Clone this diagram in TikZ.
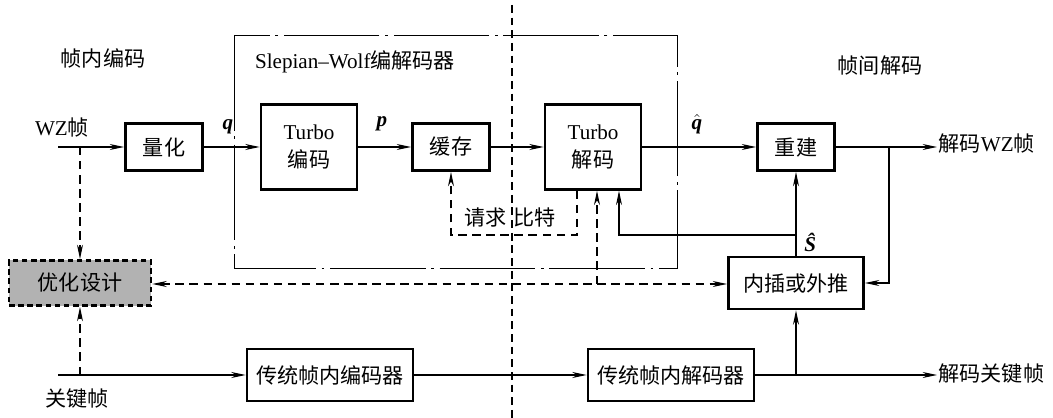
\documentclass[tikz,border=0pt]{standalone}
\usepackage{amsmath}
\usepackage{fontspec}
\setmainfont{Liberation Serif}
\newfontfamily\cjk{Noto Sans CJK SC}
\usetikzlibrary{arrows.meta, positioning, calc}

\begin{document}
\begin{tikzpicture}[
    x=0.025cm, y=-0.025cm,
    font=\fontsize{15}{20}\selectfont,
    >={Stealth[length=3.6mm,width=1.5mm]},
    blk/.style={rectangle, draw=black, line width=1.9pt, inner sep=0pt, align=center},
    sbox/.style={blk, minimum width=1.93cm, minimum height=1.18cm},
    tbox/.style={blk, minimum width=2.4cm, minimum height=2.12cm},
    wbox/.style={blk, minimum width=4.15cm, minimum height=1.3cm},
    optbox/.style={blk, dash pattern=on 4pt off 2.5pt, fill=gray!60,
                   minimum width=3.55cm, minimum height=1.13cm},
    arr/.style={->, line width=0.8pt},
    darr/.style={->, line width=0.8pt, dash pattern=on 6pt off 4pt},
    lbl/.style={inner sep=1pt}
]
\useasboundingbox (0,0) rectangle (1053,418);

% frames
\draw[line width=0.7pt, dash pattern=on 68pt off 4pt on 2pt off 4pt]
    (234,35) rectangle (677,268);
\coordinate (vtop) at (512,5);
\coordinate (vbot) at (512,418);
\draw[line width=0.8pt, dash pattern=on 5.5pt off 3.5pt] (vtop) -- (vbot);

\node[lbl] (intra) at (103,58) {\cjk 帧内编码};
\node[lbl] (swlbl) at (355,62) {Slepian--Wolf{\cjk 编解码器}};
\node[lbl] (inter) at (880,66) {\cjk 帧间解码};

% main row
\node[sbox] (quant) at (164,147) {\cjk 量化};
\node[tbox] (tenc)  at (309,147) {Turbo\\{\cjk 编码}};
\node[sbox] (buf)   at (451,147) {\cjk 缓存};
\node[tbox] (tdec)  at (593,147) {Turbo\\{\cjk 解码}};
\node[sbox] (recon) at (796,147) {\cjk 重建};
\node[blk, minimum width=3.38cm, minimum height=1.3cm] (interp) at (796,283) {\cjk 内插或外推};
\node[optbox] (optim) at (80,283) {\cjk 优化设计};
\node[wbox] (tenc2) at (330,375) {\cjk 传统帧内编码器};
\node[wbox] (tdec2) at (671,375) {\cjk 传统帧内解码器};

\node[lbl] (wzlbl)  at (62,128)  {WZ{\cjk 帧}};
\node[lbl] (keylbl) at (77,399)  {\cjk 关键帧};
\node[lbl, anchor=west] (wzout)  at (937,144) {{\cjk 解码}WZ{\cjk 帧}};
\node[lbl, anchor=west] (keyout) at (937,374) {\cjk 解码关键帧};

\node[lbl] (qlbl)  at (228,127) {\textbf{\textit{q}}};
\node[lbl] (plbl)  at (382,124) {\textbf{\textit{p}}};
\node[lbl] (qhat)  at (697,124) {$\hat{\text{\textbf{\textit{q}}}}$};
\node[inner sep=0pt, anchor=west] (shat) at (804,242) {\textbf{\textit{Ŝ}}};
\node[lbl] (req)   at (510,217) {{\cjk 请求}\hspace{0.3em}{\cjk 比特}};

\coordinate (wzin)  at (58,147);
\coordinate (wzb)   at (80,147);
\coordinate (keyin) at (58,375);
\coordinate (kb)    at (80,375);
\coordinate (br1)   at (889,147);
\coordinate (kb2)   at (796,375);
\coordinate (sj)    at (796,235);
\coordinate (sk)    at (619,235);
\coordinate (rq1)   at (577,235);
\coordinate (rq2)   at (451,235);
\coordinate (od)    at (597,284);

% solid connectors
\draw[arr] (wzin) -- (quant);
\draw[arr] (quant) -- (tenc);
\draw[arr] (tenc) -- (buf);
\draw[arr] (buf) -- (tdec);
\draw[arr] (tdec) -- (recon);
\draw[arr] (recon) -- (wzout.west |- recon);
\draw[arr] (br1) |- (interp);
\draw[arr] (interp) -- (recon);
\draw[arr] (sj) -- (sk) -- (sk |- tdec.south);
\draw[arr] (keyin) -- (tenc2);
\draw[arr] (tenc2) -- (tdec2);
\draw[arr] (tdec2) -- (keyout.west |- tdec2);
\draw[arr] (kb2) -- (interp);

% dashed connectors
\draw[darr] (wzb) -- (optim);
\draw[darr] (kb) -- (optim);
\draw[darr] (rq1 |- tdec.south) -- (rq1) -- (rq2) -- (buf);
\draw[darr, <->] (optim.east |- od) -- (interp.west |- od);
\draw[darr] (od) -- (od |- tdec.south);
\end{tikzpicture}
\end{document}
